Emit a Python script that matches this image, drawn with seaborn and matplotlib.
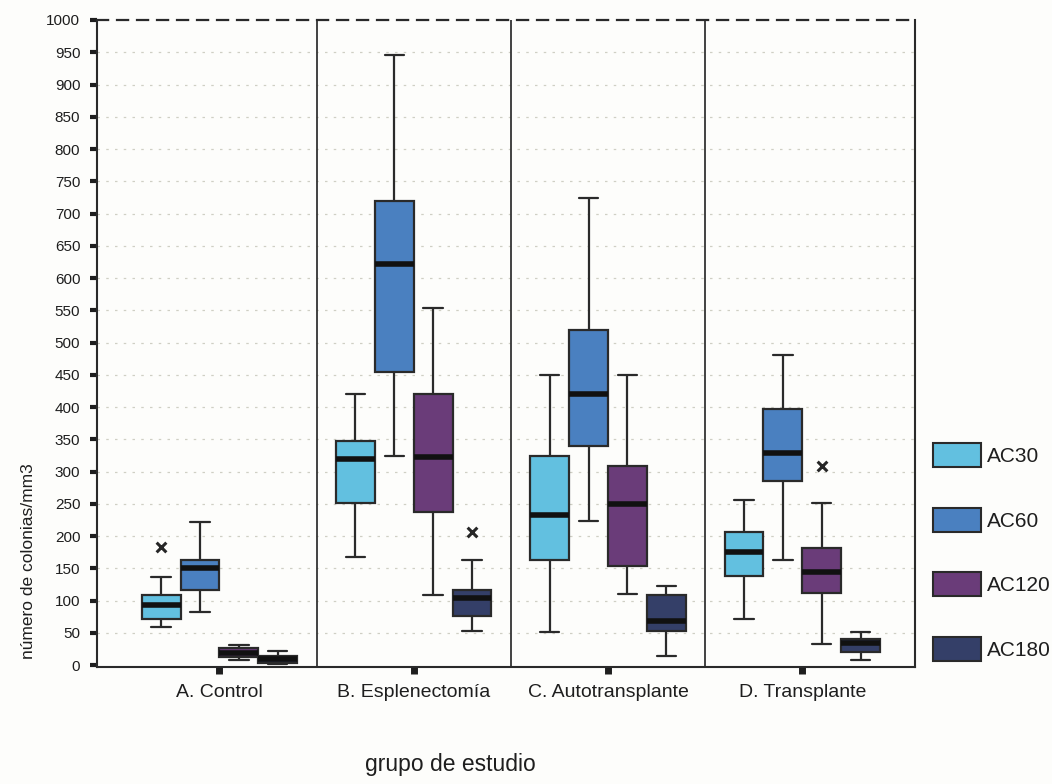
import numpy as np
import pandas as pd
import matplotlib
matplotlib.use("Agg")
import matplotlib.pyplot as plt
import seaborn as sns
from matplotlib.patches import Patch

# Study groups and the four colony-count series
grupos = ["A. Control", "B. Esplenectomía", "C. Autotransplante", "D. Transplante"]
series = ["AC30", "AC60", "AC120", "AC180"]

# Box statistics: one row per series, one column per group
bigote_inf = [[59, 167, 52, 71],
              [83, 324, 223, 163],
              [8, 109, 110, 32],
              [2, 53, 14, 8]]
cuartil_1 = [[72, 252, 163, 138],
             [117, 455, 340, 285],
             [12, 238, 154, 111],
             [3, 76, 53, 21]]
mediana = [[93, 319, 233, 176],
           [151, 621, 420, 329],
           [19, 323, 249, 144],
           [9, 104, 68, 34]]
cuartil_3 = [[108, 348, 324, 207],
             [163, 719, 519, 397],
             [26, 420, 309, 182],
             [14, 117, 109, 41]]
bigote_sup = [[137, 420, 449, 256],
              [222, 945, 724, 480],
              [31, 554, 449, 252],
              [22, 163, 122, 52]]

# Extreme values
atipico_grupo = ["A. Control", "B. Esplenectomía", "D. Transplante"]
atipico_serie = ["AC30", "AC180", "AC120"]
atipico_valor = [183, 207, 309]

colores = ["#62c0e0", "#4a80c0", "#6a3c79", "#343f68"]
paleta = dict(zip(series, colores))

# Long table: five summary values per box, so quartiles and whisker ends
# come out exactly with whis=(0, 100)
filas = []
for i, s in enumerate(series):
    for j, g in enumerate(grupos):
        for v in (bigote_inf[i][j], cuartil_1[i][j], mediana[i][j],
                  cuartil_3[i][j], bigote_sup[i][j]):
            filas.append({"grupo": g, "serie": s, "valor": v})
df = pd.DataFrame(filas)
df_at = pd.DataFrame({"grupo": atipico_grupo, "serie": atipico_serie, "valor": atipico_valor})

sns.set_theme(style="white")
plt.rcParams["font.family"] = ["Liberation Sans", "DejaVu Sans"]
ink = "#1e1e1e"

fig = plt.figure(figsize=(10.52, 7.84), dpi=100, facecolor="#fdfdfb")
ax = fig.add_axes([0.0922, 0.1492, 0.7776, 0.8253])
ax.set_facecolor("#fdfdfb")

# dotted horizontal grid
for yv in range(50, 1000, 50):
    ax.axhline(yv, color="#cfcfc4", lw=0.9, ls=(0, (2, 5)), zorder=0)

# group separators
for xv in (0.5, 1.5, 2.5):
    ax.axvline(xv, color="#333333", lw=1.3, zorder=1)

sns.boxplot(data=df, x="grupo", y="valor", hue="serie", order=grupos, hue_order=series,
            palette=paleta, saturation=1, whis=(0, 100), width=0.8, gap=0,
            linecolor="#2a2a2a", linewidth=1.6, showfliers=False, legend=False,
            medianprops=dict(color="#111111", linewidth=4),
            ax=ax)

sns.stripplot(data=df_at, x="grupo", y="valor", hue="serie", order=grupos, hue_order=series,
              palette={s: "#262626" for s in series}, dodge=True, jitter=False,
              marker="x", size=7, linewidth=2.2, legend=False, ax=ax, zorder=5)

ax.set_xlim(-0.63, 3.58)
ax.set_ylim(-3, 1000)
ax.set_yticks(range(0, 1001, 50))
ax.set_yticklabels([str(v) for v in range(0, 1001, 50)])
ax.tick_params(axis="y", left=True, direction="out", length=5, width=3, color=ink,
               labelsize=11, labelcolor=ink, pad=7)
ax.tick_params(axis="x", bottom=True, direction="out", length=5, width=5, color=ink,
               labelsize=14, labelcolor=ink, pad=7)

for side in ("left", "bottom", "right"):
    ax.spines[side].set_color("#2a2a2a")
    ax.spines[side].set_linewidth(1.5)
ax.spines["top"].set_color("#2a2a2a")
ax.spines["top"].set_linewidth(1.6)
ax.spines["top"].set_linestyle((0, (5, 4)))

ax.set_xlabel("")
ax.set_ylabel("número de colonias/mm3", fontsize=12.5, color=ink)
ax.yaxis.set_label_coords(-0.0746, 0.164)
fig.text(450 / 1052, 1 - 765 / 784, "grupo de estudio", fontsize=16.5, color=ink,
         ha="center", va="center")

handles = [Patch(facecolor=paleta[s], edgecolor="#2a2a2a", linewidth=1.5, label=s) for s in series]
fig.legend(handles=handles, loc="upper left", bbox_to_anchor=(933 / 1052, 1 - 443 / 784),
           frameon=False, fontsize=15, handlelength=2.3, handleheight=1.4,
           labelspacing=1.95, handletextpad=0.3, borderpad=0, borderaxespad=0,
           labelcolor=ink)

fig.savefig("out.png", dpi=100, facecolor=fig.get_facecolor())
